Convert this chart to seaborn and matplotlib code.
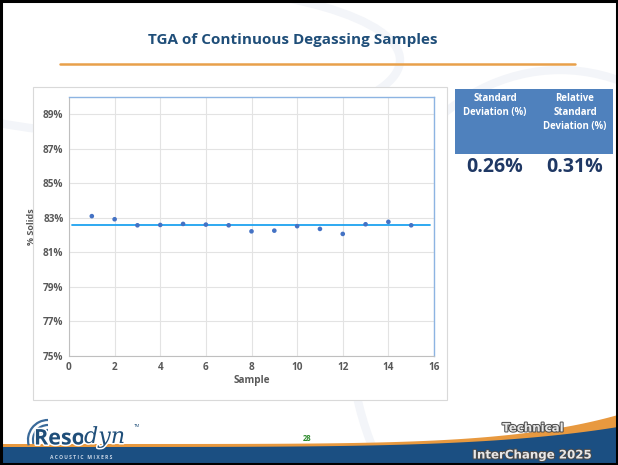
import matplotlib
matplotlib.use("Agg")
import matplotlib.pyplot as plt
import matplotlib.patches as mpatches
import matplotlib.patheffects as pe
from matplotlib.ticker import FuncFormatter
import seaborn as sns
import pandas as pd
import numpy as np

# data
samples = list(range(1, 16))
solids = [83.10, 82.92, 82.57, 82.59, 82.65, 82.61, 82.57, 82.22,
          82.26, 82.52, 82.36, 82.07, 82.63, 82.77, 82.57]
stat_headers = ["Standard\nDeviation (%)", "Relative\nStandard\nDeviation (%)"]
stat_values = ["0.26%", "0.31%"]
x_ticks = list(range(0, 17, 2))
y_ticks = list(range(75, 90, 2))

df = pd.DataFrame({"Sample": samples, "Solids": solids})

sns.set_style("whitegrid")
plt.rcParams["font.family"] = ["Open Sans", "DejaVu Sans"]

W, H = 618, 465
fig = plt.figure(figsize=(W / 100, H / 100), dpi=100)
fig.patch.set_facecolor("white")

def fx(px):
    return px / W

def fy(py):
    return 1 - py / H

NAVY = "#1F4E79"
GREY = "#595959"

# faint background swooshes
for cx, cy, w, h in [(140, 60, 520, 150), (560, 330, 420, 520)]:
    fig.patches.append(mpatches.Ellipse((fx(cx), fy(cy)), fx(w), h / H, transform=fig.transFigure,
                                        fill=False, edgecolor="#F3F5F9", lw=6, zorder=-3))

# slide border
fig.patches.append(mpatches.Rectangle((0.002, 0.002), 0.996, 0.996, transform=fig.transFigure,
                                      fill=False, edgecolor="black", lw=2.2, zorder=10))

# title and orange rule
fig.text(fx(293), fy(40), "TGA of Continuous Degassing Samples", ha="center", va="center",
         fontsize=11, fontweight="bold", color=NAVY)
fig.add_artist(plt.Line2D([fx(60), fx(575)], [fy(64), fy(64)], color="#E8A04A", lw=1.8,
                          transform=fig.transFigure))

# chart frame
fig.patches.append(mpatches.Rectangle((fx(33), fy(400)), fx(447 - 33), (400 - 87) / H,
                                      transform=fig.transFigure, facecolor="white",
                                      edgecolor="#D9D9D9", lw=0.8, zorder=-2))

ax = fig.add_axes([fx(69), fy(356), fx(434 - 69), (356 - 97) / H])
sns.scatterplot(data=df, x="Sample", y="Solids", ax=ax, color="#4472C4", s=11,
                edgecolor="none", zorder=3)
mean_val = float(np.mean(solids))
ax.axhline(mean_val, xmin=0.007, xmax=0.99, color="#1EA2F0", lw=1.3, zorder=2)

ax.set_xlim(0, 16)
ax.set_ylim(75, 90)
ax.set_xticks(x_ticks)
ax.set_yticks(y_ticks)
ax.yaxis.set_major_formatter(FuncFormatter(lambda v, p: f"{v:.0f}%"))
ax.grid(True, color="#E3E3E3", lw=0.8)
ax.tick_params(axis="both", labelsize=7.2, colors=GREY, length=0, pad=4)
for lab in ax.get_xticklabels() + ax.get_yticklabels():
    lab.set_fontweight("bold")
ax.set_xlabel("Sample", fontsize=7.2, fontweight="bold", color=GREY, labelpad=2)
ax.set_ylabel("% Solids", fontsize=6.5, fontweight="bold", color=GREY, labelpad=5)
for side in ["left", "bottom"]:
    ax.spines[side].set_color("#BFBFBF")
    ax.spines[side].set_linewidth(0.8)
for side in ["top", "right"]:
    ax.spines[side].set_color("#8DB4E2")
    ax.spines[side].set_linewidth(1.0)

# stats table
fig.patches.append(mpatches.Rectangle((fx(455), fy(154)), fx(613 - 455), (154 - 89) / H,
                                      transform=fig.transFigure, facecolor="#4F81BD",
                                      edgecolor="none"))
fig.text(fx(495), fy(93), stat_headers[0], ha="center", va="top", fontsize=6.9,
         fontweight="bold", color="white", linespacing=1.35)
fig.text(fx(575), fy(93), stat_headers[1], ha="center", va="top", fontsize=6.9,
         fontweight="bold", color="white", linespacing=1.35)
fig.text(fx(495), fy(167), stat_values[0], ha="center", va="center", fontsize=14,
         fontweight="bold", color="#1F3864")
fig.text(fx(575), fy(167), stat_values[1], ha="center", va="center", fontsize=14,
         fontweight="bold", color="#1F3864")

# footer swoosh
xs = np.linspace(0, W, 200)
orange_top = 444 - 29 * (xs / W) ** 6
blue_top = 447 - 20 * (xs / W) ** 5
fig.patches.append(mpatches.Polygon(
    np.column_stack([np.r_[xs, xs[::-1]] / W,
                     1 - np.r_[orange_top, np.full_like(xs, H)] / H]),
    closed=True, transform=fig.transFigure, facecolor="#E8993F", edgecolor="none"))
fig.patches.append(mpatches.Polygon(
    np.column_stack([np.r_[xs, xs[::-1]] / W,
                     1 - np.r_[blue_top, np.full_like(xs, H)] / H]),
    closed=True, transform=fig.transFigure, facecolor="#1B4F82", edgecolor="none"))

# logo arcs
for r in [10, 15, 20]:
    fig.patches.append(mpatches.Arc((fx(48), fy(440)), fx(2 * r), 2 * r / H, theta1=90, theta2=200,
                                    transform=fig.transFigure, edgecolor="#3A6A9A", lw=1.6))

outline = [pe.withStroke(linewidth=2.2, foreground="white")]
fig.text(fx(34), fy(439), "Reso", ha="left", va="center", fontsize=15.5, fontweight="bold",
         color="#1F4E79", path_effects=outline)
fig.text(fx(84), fy(437), "dyn", ha="left", va="center", fontsize=16, style="italic",
         family="DejaVu Serif", color="#1F4E79", path_effects=outline)
fig.text(fx(134), fy(426), "TM", ha="left", va="center", fontsize=3.2, color="#1F4E79")
fig.text(fx(50), fy(457), "A C O U S T I C   M I X E R S", ha="left", va="center",
         fontsize=3.6, fontweight="bold", color="#C9D6E6")
fig.text(fx(307), fy(438), "28", ha="center", va="center", fontsize=5.5,
         fontweight="bold", color="#2E8B2E")
silver = [pe.withStroke(linewidth=1.4, foreground="#4A4A4A")]
fig.text(fx(533), fy(428), "Technical", ha="center", va="center", fontsize=8.5,
         fontweight="bold", color="#E8E8E8", family="DejaVu Sans", path_effects=silver)
fig.text(fx(532), fy(455), "InterChange 2025", ha="center", va="center", fontsize=8.5,
         fontweight="bold", color="#E8E8E8", family="DejaVu Sans", path_effects=silver)

fig.savefig("out.png", dpi=100)
plt.close(fig)
